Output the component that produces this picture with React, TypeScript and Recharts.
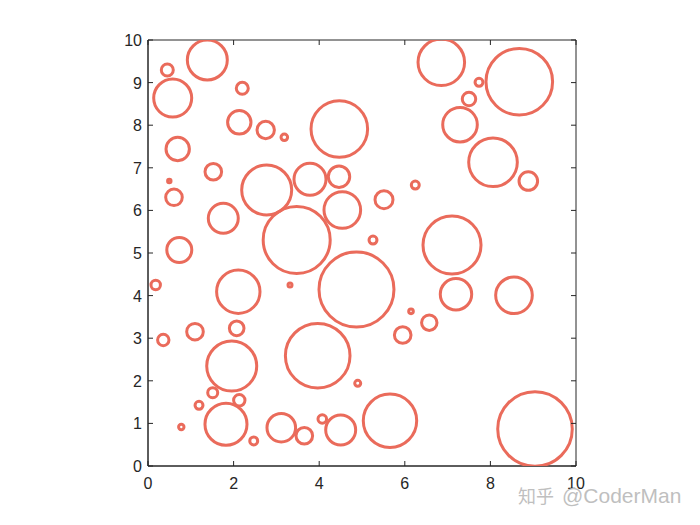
import React from 'react';
import { ScatterChart, Scatter, XAxis, YAxis, ReferenceArea } from 'recharts';

// circle centres (x, y) and radii, in data units
const xs = [
  1.386, 0.451, 0.577, 2.203, 2.133, 2.750, 3.185, 4.470, 0.694, 1.526,
  0.498, 0.607, 2.773, 3.785, 4.463, 4.540, 1.759, 3.474, 0.731, 6.853,
  8.675, 7.734, 7.500, 7.290, 8.061, 8.886, 6.245, 5.514, 5.257, 7.103,
  4.871, 7.196, 8.551, 6.145, 6.572, 5.951, 4.900, 5.654, 9.042, 0.180,
  3.318, 2.110, 1.098, 2.072, 0.357, 1.956, 3.965, 1.512, 2.133, 1.192,
  0.778, 1.822, 2.470, 3.114, 3.652, 4.072, 4.502,
];
const ys = [
  9.530, 9.296, 8.638, 8.866, 8.068, 7.887, 7.716, 7.911, 7.441, 6.908,
  6.690, 6.307, 6.479, 6.730, 6.791, 6.009, 5.815, 5.305, 5.070, 9.477,
  9.021, 9.007, 8.615, 8.012, 7.129, 6.690, 6.596, 6.251, 5.305, 5.188,
  4.143, 4.031, 4.007, 3.631, 3.364, 3.075, 1.941, 1.063, 0.869, 4.249,
  4.249, 4.092, 3.153, 3.232, 2.958, 2.347, 2.589, 1.721, 1.542, 1.425,
  0.915, 0.979, 0.587, 0.899, 0.711, 1.103, 0.845,
];
const rs = [
  0.467, 0.140, 0.444, 0.140, 0.273, 0.203, 0.077, 0.661, 0.273, 0.194,
  0.040, 0.194, 0.584, 0.374, 0.250, 0.428, 0.350, 0.783, 0.292, 0.544,
  0.778, 0.093, 0.157, 0.404, 0.568, 0.217, 0.093, 0.210, 0.093, 0.678,
  0.876, 0.367, 0.428, 0.054, 0.180, 0.194, 0.070, 0.624, 0.871, 0.110,
  0.047, 0.507, 0.194, 0.171, 0.133, 0.584, 0.755, 0.117, 0.133, 0.093,
  0.063, 0.491, 0.093, 0.334, 0.194, 0.100, 0.350,
];

const xTicks = [0, 2, 4, 6, 8, 10];
const yTicks = [0, 1, 2, 3, 4, 5, 6, 7, 8, 9, 10];
const watermarkCn = '知乎';
const watermarkEn = '@CoderMan';

const W = 700;
const H = 525;
const M = { top: 40, right: 124, bottom: 29, left: 118 };
const Y_AXIS_W = 30;
const X_AXIS_H = 30;
const PLOT_L = M.left + Y_AXIS_W;
const PLOT_R = W - M.right;
const PLOT_T = M.top;
const PLOT_B = H - M.bottom - X_AXIS_H;
const PLOT_W = PLOT_R - PLOT_L;
const PX_PER_UNIT = PLOT_W / 10;
const TICK_LEN = 5;

const COLOR = '#EA6B5B';
const AXIS = '#262626';
const FONT = 'Liberation Sans, Arial, sans-serif';

const points = xs.map((x, i) => ({ x, y: ys[i], r: rs[i] }));

const Ring = (props: any) => {
  const { cx, cy, payload } = props;
  if (cx == null || cy == null) return <g />;
  return (
    <circle
      cx={cx}
      cy={cy}
      r={payload.r * PX_PER_UNIT}
      fill="none"
      stroke={COLOR}
      strokeWidth={3}
    />
  );
};

const XTick = (props: any) => {
  const { x, payload } = props;
  return (
    <g>
      <line x1={x} x2={x} y1={PLOT_B} y2={PLOT_B - TICK_LEN} stroke={AXIS} strokeWidth={1} />
      <line x1={x} x2={x} y1={PLOT_T} y2={PLOT_T + TICK_LEN} stroke={AXIS} strokeWidth={1} />
      <text x={x} y={PLOT_B + 23} textAnchor="middle" fontSize={16} fill={AXIS} fontFamily={FONT}>
        {payload.value}
      </text>
    </g>
  );
};

const YTick = (props: any) => {
  const { y, payload } = props;
  return (
    <g>
      <line x1={PLOT_L} x2={PLOT_L + TICK_LEN} y1={y} y2={y} stroke={AXIS} strokeWidth={1} />
      <line x1={PLOT_R} x2={PLOT_R - TICK_LEN} y1={y} y2={y} stroke={AXIS} strokeWidth={1} />
      <text x={PLOT_L - 6} y={y + 6} textAnchor="end" fontSize={16} fill={AXIS} fontFamily={FONT}>
        {payload.value}
      </text>
    </g>
  );
};

export default function App() {
  return (
    <div style={{ position: 'absolute', left: 0, top: 0, width: W, height: H, background: '#fff' }}>
      <ScatterChart width={W} height={H} margin={M}>
        <XAxis
          dataKey="x"
          type="number"
          domain={[0, 10]}
          ticks={xTicks}
          allowDataOverflow
          height={X_AXIS_H}
          stroke={AXIS}
          tickLine={false}
          tick={<XTick />}
        />
        <YAxis
          dataKey="y"
          type="number"
          domain={[0, 10]}
          ticks={yTicks}
          allowDataOverflow
          width={Y_AXIS_W}
          stroke={AXIS}
          tickLine={false}
          tick={<YTick />}
        />
        <ReferenceArea
          x1={0}
          x2={10}
          y1={0}
          y2={10}
          fill="none"
          fillOpacity={0}
          stroke={AXIS}
          strokeWidth={1}
          strokeOpacity={1}
        />
        <Scatter data={points} shape={Ring} isAnimationActive={false} />
      </ScatterChart>
      <div
        style={{
          position: 'absolute',
          left: 518,
          top: 484,
          color: '#bfbfbf',
          fontFamily: 'Liberation Sans, "Noto Sans CJK SC", sans-serif',
          whiteSpace: 'nowrap',
          lineHeight: '24px',
        }}
      >
        <span style={{ fontSize: 18 }}>{watermarkCn}</span>
        <span style={{ fontSize: 21, marginLeft: 8 }}>{watermarkEn}</span>
      </div>
    </div>
  );
}
